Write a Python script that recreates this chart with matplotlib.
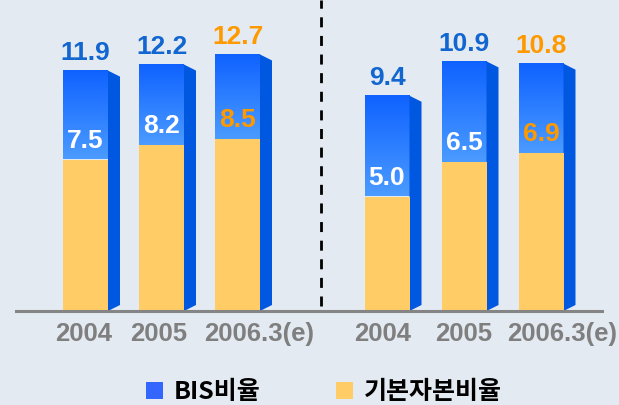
import numpy as np
import matplotlib.pyplot as plt
from matplotlib.colors import LinearSegmentedColormap
from matplotlib.patches import Polygon, Rectangle, Patch
from matplotlib.lines import Line2D

plt.rcParams['font.family'] = ['Liberation Sans', 'Noto Sans CJK KR']

# BIS비율 / 기본자본비율 (%)
years = ['2004', '2005', '2006.3(e)']
bis_left = [11.9, 12.2, 12.7]
core_left = [7.5, 8.2, 8.5]
bis_right = [9.4, 10.9, 10.8]
core_right = [5.0, 6.5, 6.9]

W, H = 619, 405
BASE = 94  # 기준선 높이(px, 아래에서)
bg = '#e4eaf2'
blue_side = '#0057e0'
yellow = '#ffcc66'
blue_txt = '#1266d0'
orange = '#ff9900'

blue_grad = LinearSegmentedColormap.from_list('bis', ['#4b9bff', '#0f62ff'])
grad = np.linspace(0, 1, 256)[:, None]

fig = plt.figure(figsize=(W / 100, H / 100), dpi=100)
fig.patch.set_facecolor(bg)


def draw_panel(ax, bis, core, px_unit, c0, step, px_l, px_r, tick_x):
    ax.set_facecolor('none')
    for s in ax.spines.values():
        s.set_visible(False)
    w = 45 / step
    sw = 12 / step
    drop = 6 / px_unit
    for i, (b, c) in enumerate(zip(bis, core)):
        x0, x1 = i - w / 2, i + w / 2
        # 앞면 그라데이션 + 옆면
        ax.imshow(grad, extent=[x0, x1, c, b], origin='lower', aspect='auto',
                  cmap=blue_grad, zorder=2)
        ax.add_patch(Polygon([(x1, b), (x1 + sw, b - drop), (x1 + sw, drop), (x1, 0)],
                             closed=True, facecolor=blue_side, edgecolor='none', zorder=2))
        ax.add_patch(Rectangle((x0, 0), w, c, facecolor=yellow, edgecolor='none', zorder=3))
        last = i == len(bis) - 1
        ax.annotate(f'{b:.1f}', (i, b), xytext=(0, 4), textcoords='offset points',
                    ha='center', va='bottom', fontsize=19, fontweight='bold',
                    color=orange if last else blue_txt, zorder=5)
        ax.annotate(f'{c:.1f}', (i, c), xytext=(0, 5), textcoords='offset points',
                    ha='center', va='bottom', fontsize=19, fontweight='bold',
                    color=orange if last else 'white', zorder=5)
    ax.set_xlim((px_l - c0) / step, (px_r - c0) / step)
    ax.set_ylim(0, (H - BASE) / px_unit)
    ax.set_yticks([])
    ax.set_xticks(tick_x)
    ax.set_xticklabels(years, fontsize=18.5, fontweight='bold', color='#7f7f7f')
    ax.tick_params(axis='x', length=0, pad=8)


ax_l = fig.add_axes([0, BASE / H, 321 / W, (H - BASE) / H])
ax_r = fig.add_axes([321 / W, BASE / H, (W - 321) / W, (H - BASE) / H])
draw_panel(ax_l, bis_left, core_left, 20.2, 85.5, 76, 0, 321, [-0.03, 0.96, 2.28])
draw_panel(ax_r, bis_right, core_right, 22.9, 387, 77, 321, W, [-0.06, 1.0, 2.28])

# 기준선과 구분 점선
fig.add_artist(Line2D([16 / W, 602 / W], [BASE / H, BASE / H], color='#858585', lw=2.2))
fig.add_artist(Line2D([321 / W, 321 / W], [(H - 306) / H, 1], color='black', lw=2,
                      dashes=(3.6, 3.1)))

handles = [Patch(facecolor='#3366ff', label='BIS비율'),
           Patch(facecolor=yellow, label='기본자본비율')]
leg = fig.legend(handles=handles, ncol=2, frameon=False, loc='center left',
                 bbox_to_anchor=(146 / W, 13 / H), borderpad=0, borderaxespad=0,
                 handlelength=0.68, handleheight=0.68, handletextpad=0.45,
                 columnspacing=3.0,
                 prop={'family': ['Noto Sans CJK KR'], 'weight': 'bold', 'size': 18})

fig.savefig('out.png', dpi=100, facecolor=bg)
